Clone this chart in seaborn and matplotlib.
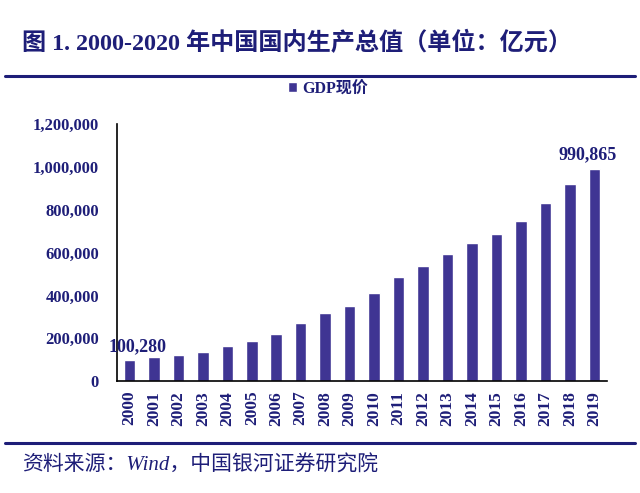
import pandas as pd
import seaborn as sns
import matplotlib.pyplot as plt
from matplotlib.ticker import FuncFormatter, MultipleLocator

years = [str(y) for y in range(2000, 2020)]
gdp = [100280, 110863, 121717, 137422, 161840, 187319, 219439, 270092, 319245, 348518,
       412119, 487940, 538580, 592963, 643563, 688858, 746395, 832036, 919281, 990865]

df = pd.DataFrame({'year': years, 'GDP现价': gdp})

sns.set_style('white')
plt.rcParams['font.family'] = ['Liberation Serif', 'Noto Sans CJK SC', 'DejaVu Sans']

navy = '#1e1e78'
bar_color = '#3f3593'

fig = plt.figure(figsize=(6.4, 4.93), dpi=100)
ax = fig.add_axes([0.183, 0.227, 0.765, 0.521])

sns.barplot(data=df, x='year', y='GDP现价', color=bar_color, width=0.47,
            saturation=1, ax=ax, label='GDP现价')

ax.set_ylim(0, 1200000)
ax.set_xlim(-0.5, len(years) - 0.5)
ax.yaxis.set_major_locator(MultipleLocator(200000))
ax.yaxis.set_major_formatter(FuncFormatter(lambda v, p: f'{int(v):,}'))
ax.set_xlabel('')
ax.set_ylabel('')

for s in ['top', 'right']:
    ax.spines[s].set_visible(False)
for s in ['left', 'bottom']:
    ax.spines[s].set_color('black')
    ax.spines[s].set_linewidth(1.2)

ax.tick_params(axis='y', direction='in', length=4, width=1, colors='black',
               labelcolor=navy, labelsize=12, pad=13)
ax.tick_params(axis='x', length=0, labelcolor=navy, labelsize=12.5, pad=7)
ax.set_xticks(range(len(years)))
ax.set_xticklabels(years, rotation=90, fontweight='bold')
ax.set_xticks([i - 0.5 for i in range(len(years) + 1)], minor=True)
ax.tick_params(axis='x', which='minor', direction='in', length=4, width=1, color='black')
for t in ax.get_yticklabels():
    t.set_fontweight('bold')

ax.text(0.35, gdp[0] + 20000, f'{gdp[0]:,}', ha='center', va='bottom',
        fontsize=13, fontweight='bold', color=navy)
ax.text(len(years) - 1.3, gdp[-1] + 25000, f'{gdp[-1]:,}', ha='center', va='bottom',
        fontsize=13, fontweight='bold', color=navy)

leg = ax.legend(loc='lower center', bbox_to_anchor=(0.43, 1.05), frameon=False,
                handlelength=0.6, handleheight=0.6, handletextpad=0.3,
                prop={'weight': 'bold', 'size': 11.5})
for t in leg.get_texts():
    t.set_color(navy)

fig.text(0.034, 0.912, '图 1. 2000-2020 年中国国内生产总值（单位：亿元）',
         fontsize=17.4, fontweight='bold', color=navy, va='center')
fig.add_artist(plt.Line2D([0.008, 0.992], [0.845, 0.845], color=navy, lw=2.2))
fig.add_artist(plt.Line2D([0.008, 0.992], [0.101, 0.101], color=navy, lw=2.2))
fig.text(0.034, 0.055, '资料来源：Wind，中国银河证券研究院', fontsize=15,
         fontstyle='italic', color=navy, va='center')

fig.savefig('out.png', dpi=100)
